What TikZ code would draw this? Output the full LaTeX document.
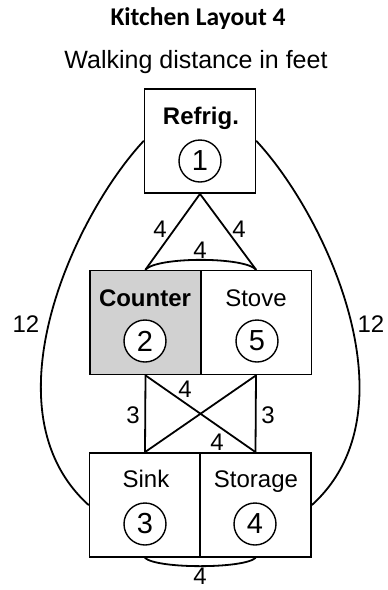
\documentclass[tikz,border=0pt]{standalone}
\usepackage{fontspec}
\setmainfont{Liberation Sans}
\newfontfamily\headfont{Carlito}
\begin{document}
\begin{tikzpicture}[x=1pt,y=-1pt,
  room/.style={draw=black, line width=1.8pt, minimum width=111pt, minimum height=104pt, inner sep=0pt},
  roomname/.style={font=\fontsize{24}{27}\selectfont, inner sep=0pt, anchor=base},
  roomnum/.style={circle, draw=black, line width=1.4pt, minimum size=42pt, inner sep=0pt, font=\fontsize{29}{32}\selectfont},
  dist/.style={font=\fontsize{24}{27}\selectfont, inner sep=0pt},
  walk/.style={line width=1.8pt, line cap=round, line join=round}
]
\useasboundingbox (0,0) rectangle (388,590);

% headings
\node (title) at (198,19) {\headfont\bfseries\fontsize{25.5}{29}\selectfont Kitchen Layout 4};
\node (sub) at (196,62) {\fontsize{25}{29}\selectfont Walking distance in feet};

% work centres
\node[room] (ref) at (200,141) {};
\node[room, fill=black!18] (ctr) at (145.5,322.5) {};
\node[room] (stv) at (256,322.5) {};
\node[room] (snk) at (145,505) {};
\node[room] (sto) at (255.5,505) {};

\node[roomname] (refname) at (201,124) {\bfseries Refrig.};
\node[roomnum] (n1) at (200,161) {1};
\node[roomname] (ctrname) at (145,306) {\bfseries Counter};
\node[roomnum, fill=white] (n2) at (145,341) {2};
\node[roomname] (stvname) at (256,306) {Stove};
\node[roomnum] (n5) at (257,341) {5};
\node[roomname] (snkname) at (146,487) {Sink};
\node[roomnum] (n3) at (145,524) {3};
\node[roomname] (stoname) at (256,487) {Storage};
\node[roomnum] (n4) at (255,524) {4};

% walking paths
\draw[walk] (ref.south) -- (ctr.north);
\draw[walk] (ref.south) -- (stv.north);
\draw[walk] (ctr.north) .. controls +(12,-13) and +(-12,-13) .. (stv.north);
\draw[walk] (ctr.south) -- (snk.north);
\draw[walk] (stv.south) -- (sto.north);
\draw[walk] (ctr.south) -- (sto.north);
\draw[walk] (stv.south) -- (snk.north);
\draw[walk] (snk.south) .. controls +(12,11) and +(-12,11) .. (sto.south);
\draw[walk] (ref.west) .. controls +(-69,74) and +(-105,-95) .. (snk.west);
\draw[walk] (ref.east) .. controls +(69,74) and +(105,-95) .. (sto.east);

% distances
\node[dist] (d12) at (160,229) {4};
\node[dist] (d15) at (239,229) {4};
\node[dist] (d25) at (200,250) {4};
\node[dist] (d24) at (185,389) {4};
\node[dist] (d53) at (217,442) {4};
\node[dist] (d23) at (133,415) {3};
\node[dist] (d54) at (268,415) {3};
\node[dist] (d13) at (26,324) {12};
\node[dist] (d14) at (371,324) {12};
\node[dist] (d34) at (200,576) {4};
\end{tikzpicture}
\end{document}
